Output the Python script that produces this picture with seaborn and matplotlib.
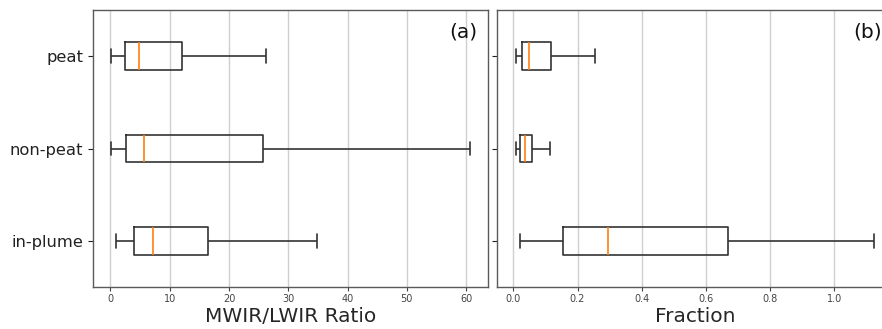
import matplotlib
matplotlib.use("Agg")
import matplotlib.pyplot as plt
import seaborn as sns
import pandas as pd

categories = ["peat", "non-peat", "in-plume"]

# Five-number summaries per category: lower whisker, Q1, median, Q3, upper whisker
ratio_peat = [0.17, 2.4, 4.8, 12.0, 26.2]
ratio_nonpeat = [0.06, 2.6, 5.6, 25.8, 60.6]
ratio_inplume = [0.95, 3.9, 7.1, 16.4, 34.9]

frac_peat = [0.008, 0.026, 0.049, 0.117, 0.254]
frac_nonpeat = [0.008, 0.022, 0.035, 0.059, 0.113]
frac_inplume = [0.022, 0.155, 0.296, 0.668, 1.125]

ratio_xlabel = "MWIR/LWIR Ratio"
frac_xlabel = "Fraction"


def long_table(groups):
    rows = []
    for cat, vals in zip(categories, groups):
        for v in vals:
            rows.append({"category": cat, "value": v})
    return pd.DataFrame(rows)


ratio_df = long_table([ratio_peat, ratio_nonpeat, ratio_inplume])
frac_df = long_table([frac_peat, frac_nonpeat, frac_inplume])

sns.set_theme(style="white")
plt.rcParams["font.family"] = ["DejaVu Sans"]

spine_col = "#5a5a5a"
fig = plt.figure(figsize=(8.82, 3.29), dpi=100)
ax1 = fig.add_axes([93 / 882, 42 / 329, 395 / 882, 277 / 329])
ax2 = fig.add_axes([497.3 / 882, 42 / 329, 395 / 882, 277 / 329])

for ax, df, xlabel, tag in [(ax1, ratio_df, ratio_xlabel, "(a)"),
                            (ax2, frac_df, frac_xlabel, "(b)")]:
    ax.grid(axis="x", color="#cfcfcf", linewidth=1.0)
    ax.set_axisbelow(True)
    sns.boxplot(data=df, x="value", y="category", order=categories,
                orient="h", width=0.3, whis=(0, 100), fill=False,
                color="#333333", linewidth=1.2,
                medianprops={"color": "#ff7f0e", "linewidth": 1.2},
                ax=ax)
    ax.set_xlabel(xlabel, fontsize=14.5, labelpad=2)
    ax.set_ylabel("")
    for s in ax.spines.values():
        s.set_visible(True)
        s.set_color(spine_col)
        s.set_linewidth(1.0)
    ax.tick_params(axis="x", labelsize=7, colors="#444444", length=3,
                   width=0.8, pad=2, bottom=True)
    ax.tick_params(axis="y", labelsize=11.8, colors="#222222", length=3.5,
                   width=0.8, left=True)
    ax.text(0.973, 0.955, tag, transform=ax.transAxes, ha="right", va="top",
            fontsize=14.5, color="#111111")

ax1.set_xlim(-2.95, 63.7)
ax2.set_xlim(-0.05, 1.181)
ax2.tick_params(axis="y", labelleft=False)

fig.savefig("out.png", dpi=100)
